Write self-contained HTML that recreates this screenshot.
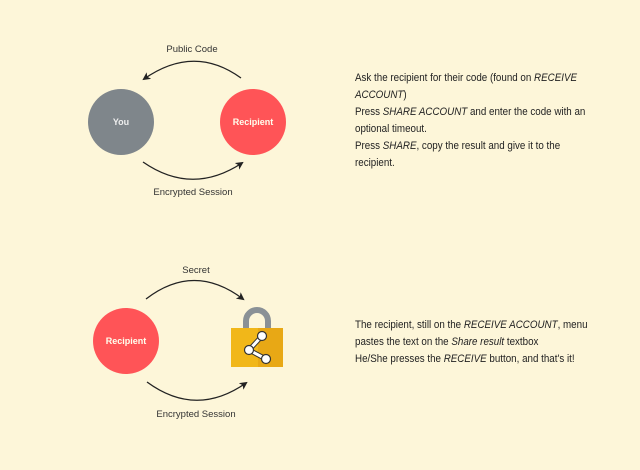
<!DOCTYPE html>
<html><head><style>
body{margin:0;width:640px;height:470px;background:#fdf6d9;overflow:hidden;position:relative;font-family:"Liberation Sans",sans-serif;}
.t{position:absolute;left:355px;font-size:11px;line-height:17px;color:#222;white-space:nowrap;transform:scaleX(0.89);transform-origin:0 0;}
</style></head><body>
<svg width="640" height="470" style="position:absolute;left:0;top:0">
<defs><marker id="a" markerWidth="8" markerHeight="8" refX="6" refY="4" orient="auto" markerUnits="userSpaceOnUse"><path d="M0,0 L8,4 L0,8 L2,4z" fill="#222"/></marker></defs>
<g fill="none" stroke="#222" stroke-width="1.3">
<path d="M241,78 Q194,44 144,79" marker-end="url(#a)"/>
<path d="M143,162 Q192,196 242,163" marker-end="url(#a)"/>
<path d="M146,299 Q194,262 243,299" marker-end="url(#a)"/>
<path d="M147,382 Q196,418 246,383" marker-end="url(#a)"/>
</g>
<circle cx="121" cy="122" r="33" fill="#7f868b"/>
<circle cx="253" cy="122" r="33" fill="#ff5457"/>
<circle cx="126" cy="341" r="33" fill="#ff5457"/>
<g font-family="Liberation Sans,sans-serif" font-size="9" text-anchor="middle">
<text x="121" y="125" fill="#eee" font-weight="bold">You</text>
<text x="253" y="125" fill="#ffe" font-weight="bold">Recipient</text>
<text x="126" y="344" fill="#ffe" font-weight="bold">Recipient</text>
<g fill="#333" font-size="9.5">
<text x="192" y="52">Public Code</text>
<text x="193" y="195">Encrypted Session</text>
<text x="196" y="273">Secret</text>
<text x="196" y="417">Encrypted Session</text>
</g></g>
<path d="M246,330 V321 A11,11 0 0 1 268,321 V330" fill="none" stroke="#8a9196" stroke-width="6"/>
<rect x="231" y="328" width="52" height="39" fill="#f1b719"/>
<rect x="258" y="328" width="25" height="39" fill="#e8a815"/>
<g fill="none" stroke="#333" stroke-width="5"><path d="M262,336 L249,350 L266,359"/></g>
<g fill="none" stroke="#fff" stroke-width="3"><path d="M262,336 L249,350 L266,359"/></g>
<g fill="#fff" stroke="#333" stroke-width="1.2"><circle cx="262" cy="336" r="4.5"/><circle cx="249" cy="350" r="4.5"/><circle cx="266" cy="359" r="4.5"/></g>
</svg>
<div class="t" style="top:70px">Ask the recipient for their code (found on <i>RECEIVE</i><br><i>ACCOUNT</i>)<br>Press <i>SHARE ACCOUNT</i> and enter the code with an<br>optional timeout.<br>Press <i>SHARE</i>, copy the result and give it to the<br>recipient.</div>
<div class="t" style="top:317px">The recipient, still on the <i>RECEIVE ACCOUNT</i>, menu<br>pastes the text on the <i>Share result</i> textbox<br>He/She presses the <i>RECEIVE</i> button, and that's it!</div>
</body></html>
